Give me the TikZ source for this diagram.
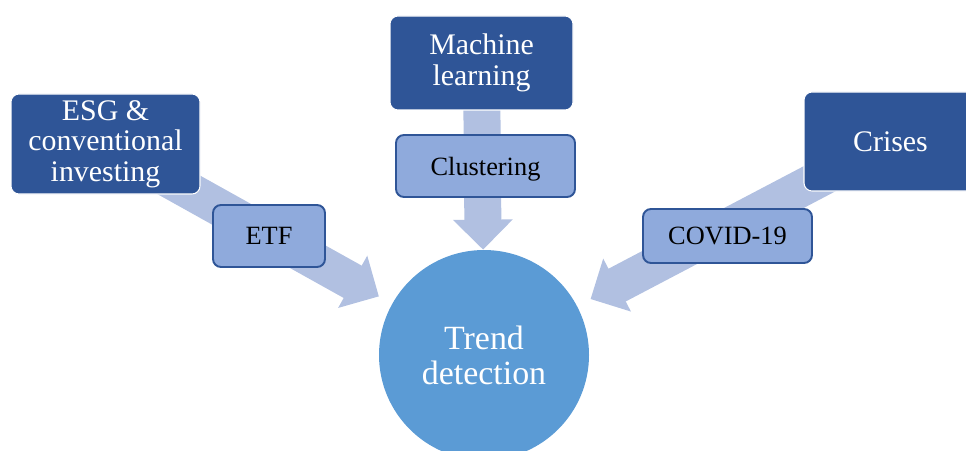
\documentclass[tikz,border=0pt]{standalone}
\usepackage{fontspec}
\setmainfont{Liberation Serif}
\usepackage{xcolor}
\usetikzlibrary{arrows.meta, backgrounds}

\definecolor{topicblue}{HTML}{2F5597}
\definecolor{methodblue}{HTML}{8FAADC}
\definecolor{flowblue}{HTML}{B1C0E1}
\definecolor{trendblue}{HTML}{5B9BD5}

\tikzset{
  topic/.style={rectangle, rounded corners=0.16cm, fill=topicblue, draw=white,
    line width=0.6pt, text=white, align=center, inner sep=0pt,
    font=\fontsize{17}{17.4}\selectfont},
  method/.style={rectangle, rounded corners=0.16cm, fill=methodblue, draw=topicblue,
    line width=1.1pt, align=center, inner sep=0pt, text depth=0pt,
    font=\fontsize{15}{17}\selectfont},
  flow/.style={draw=flowblue, line width=0.74cm,
    -{Triangle[width=1.16cm, length=0.6cm]}},
}

\begin{document}
\begin{tikzpicture}

\useasboundingbox (0,0) rectangle (19.32,9);

% --- Centre circle ---
\node[circle, fill=trendblue, minimum size=4.2cm, inner sep=0pt, text=white,
  align=center, font=\fontsize{19.3}{19.8}\selectfont] (trend) at (9.68,1.90) {Trend\\detection};

% --- Topic boxes ---
\node[topic, minimum width=3.66cm, minimum height=1.88cm] (ml) at (9.63,7.74) {Machine\\learning};
\node[topic, minimum width=3.78cm, minimum height=2.0cm] (esg) at (2.11,6.12) {ESG \&\\conventional\\investing};
\node[topic, minimum width=3.46cm, minimum height=1.98cm] (crises) at (17.81,6.17) {Crises};

% --- Method boxes on the arrows ---
\node[method, minimum width=3.58cm, minimum height=1.24cm] (clust) at (9.71,5.68) {Clustering};
\node[method, minimum width=2.24cm, minimum height=1.24cm] (etf) at (5.38,4.28) {ETF};
\node[method, minimum width=3.38cm, minimum height=1.08cm] (covid) at (14.55,4.28) {COVID-19};

% --- Wide arrows behind the boxes ---
\begin{scope}[on background layer]
\draw[flow] (ml.center) -- (trend);
\draw[flow, shorten >=0.3cm] (esg.center) -- (trend);
\draw[flow, shorten >=0.3cm] (crises.center) -- (trend);
\end{scope}

\end{tikzpicture}
\end{document}
